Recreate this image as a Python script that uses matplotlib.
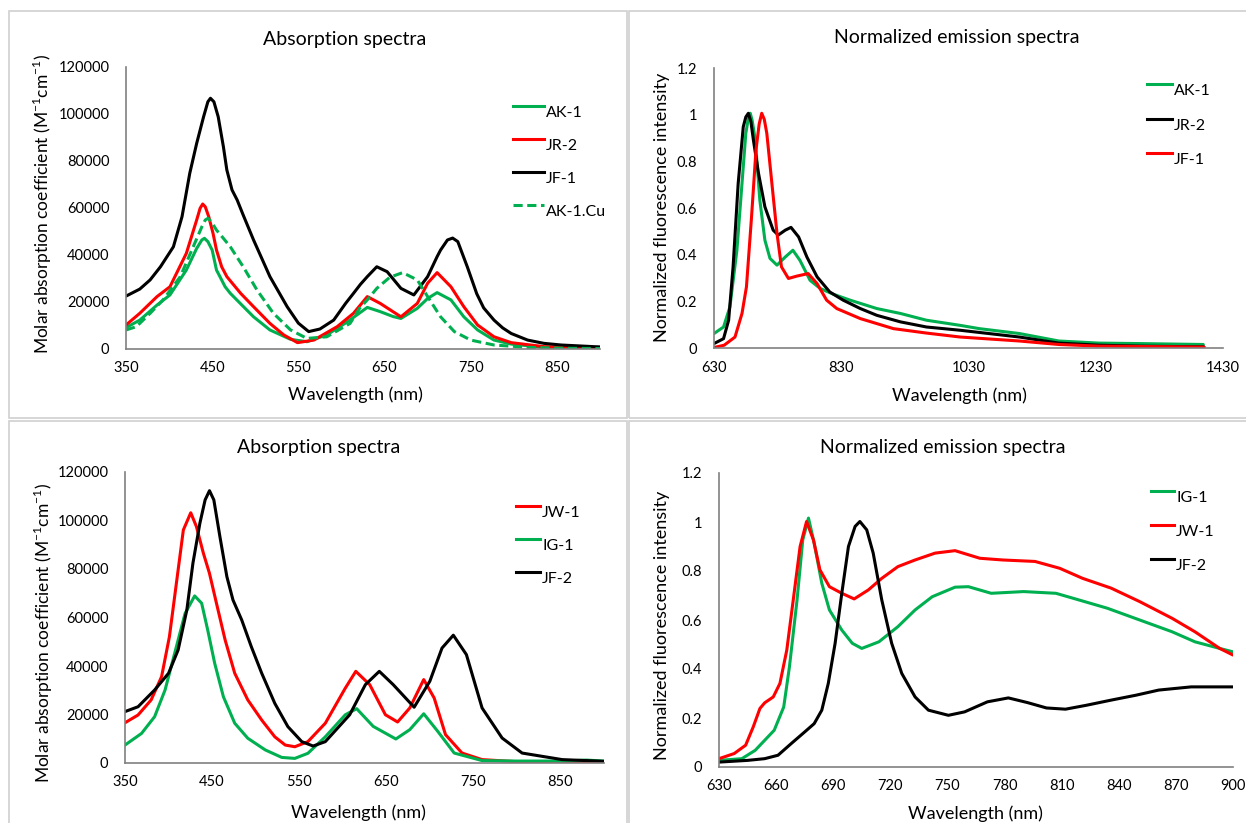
import matplotlib
matplotlib.use('Agg')
import matplotlib.pyplot as plt
from matplotlib.lines import Line2D
from matplotlib.patches import Rectangle
from matplotlib.ticker import FuncFormatter

plt.rcParams['font.family'] = ['Lato', 'DejaVu Sans']
plt.rcParams['mathtext.fontset'] = 'custom'
plt.rcParams['mathtext.rm'] = 'Lato'

GREEN = '#00b050'
RED = '#ff0000'
BLACK = '#000000'

# ---- top left: absorption (AK-1, JR-2, JF-1, AK-1.Cu) ----
ak1_abs_nm = [350, 366, 386, 401, 420, 432, 438, 441, 445, 450, 455, 459, 465, 471, 485, 498, 517,
              541, 560, 583, 607, 630, 645, 660, 669, 688, 700, 711, 727, 742, 758, 777, 797, 835,
              870, 900]
ak1_abs = [9100, 12300, 18700, 23000, 33600, 42800, 46400, 47100, 45700, 42100, 33600, 30800, 26500,
           23700, 18500, 13700, 8100, 4100, 3100, 6000, 11600, 17700, 15900, 13800, 13000, 17300,
           21500, 24000, 20900, 13700, 8100, 3800, 2100, 700, 500, 400]

jr2_abs_nm = [350, 366, 386, 401, 420, 426, 432, 436, 439, 442, 446, 451, 455, 461, 467, 483, 498,
              517, 533, 549, 568, 595, 614, 630, 645, 669, 688, 700, 711, 727, 742, 758, 777, 797,
              835, 870, 900]
jr2_abs = [10200, 15200, 22300, 26500, 40700, 47800, 54900, 59900, 61700, 60500, 56300, 49200, 42100,
           35000, 30800, 23700, 18000, 10900, 6000, 2700, 3800, 9500, 15200, 22300, 19400, 13700,
           19400, 28000, 32500, 26500, 18000, 10200, 5200, 2700, 1000, 700, 500]

jf1_abs_nm = [350, 366, 378, 390, 405, 415, 424, 432, 440, 445, 448, 452, 457, 463, 467, 473, 479,
              486, 498, 517, 537, 550, 562, 575, 591, 605, 614, 622, 630, 641, 653, 669, 684, 700,
              711, 715, 723, 729, 735, 746, 757, 765, 777, 787, 797, 816, 835, 855, 893, 900]
jf1_abs = [22500, 25500, 29400, 35000, 43500, 56300, 74800, 87500, 98800, 105200, 106700, 105200,
           98800, 86100, 76200, 67700, 63400, 57000, 46400, 30800, 18000, 11000, 7400, 8500, 12300,
           19500, 23700, 27500, 30800, 35000, 32900, 25800, 23000, 30800, 39300, 42100, 46400,
           47200, 45700, 35000, 23500, 17500, 12300, 9000, 6600, 3800, 2400, 1700, 1000, 900]

ak1cu_abs_nm = [350, 362, 378, 393, 413, 428, 438, 442, 445, 449, 455, 463, 471, 486, 502, 521, 541,
                560, 583, 610, 621, 630, 641, 656, 671, 688, 700, 715, 731, 750, 777, 816, 860, 900]
ak1cu_abs = [8100, 9500, 15200, 20900, 30800, 43500, 52000, 54900, 55600, 54200, 50600, 47100, 43500,
             35000, 25100, 15200, 8100, 4500, 5200, 10900, 17300, 20900, 25800, 30500, 32500, 29400,
             22300, 13700, 7400, 3800, 1700, 700, 300, 200]

# ---- top right: normalized emission (AK-1, JR-2, JF-1) ----
ak1_em_nm = [630, 645, 655, 666, 674, 680, 684, 687, 690, 695, 702, 710, 718, 729, 742, 754, 765,
             781, 797, 818, 844, 886, 923, 964, 1017, 1047, 1110, 1172, 1235, 1298, 1399]
ak1_em = [0.062, 0.09, 0.176, 0.419, 0.705, 0.92, 0.985, 1.006, 0.975, 0.89, 0.634, 0.462, 0.384,
          0.355, 0.39, 0.419, 0.376, 0.29, 0.255, 0.23, 0.205, 0.169, 0.148, 0.119, 0.097, 0.083,
          0.062, 0.03, 0.021, 0.019, 0.015]

jr2_em_nm = [630, 645, 653, 660, 668, 676, 680, 684, 688, 692, 700, 710, 723, 731, 742, 751, 763,
             776, 792, 812, 833, 860, 886, 923, 964, 1017, 1110, 1172, 1235, 1300, 1400]
jr2_em = [0.019, 0.04, 0.119, 0.348, 0.705, 0.948, 0.99, 1.006, 0.97, 0.89, 0.748, 0.605, 0.505,
          0.484, 0.505, 0.517, 0.476, 0.39, 0.305, 0.24, 0.205, 0.169, 0.14, 0.112, 0.09, 0.076,
          0.047, 0.021, 0.012, 0.008, 0.005]

jf1_em_nm = [630, 646, 663, 674, 681, 689, 696, 701, 705, 709, 713, 721, 729, 736, 747, 760, 778,
             792, 807, 823, 860, 912, 964, 1017, 1110, 1172, 1235, 1400]
jf1_em = [0.002, 0.012, 0.047, 0.148, 0.262, 0.562, 0.849, 0.96, 1.006, 0.98, 0.92, 0.705, 0.491,
          0.348, 0.298, 0.308, 0.319, 0.276, 0.205, 0.169, 0.126, 0.083, 0.064, 0.047, 0.03, 0.015,
          0.008, 0.004]

# ---- bottom left: absorption (JW-1, IG-1, JF-2) ----
jw1_abs_nm = [350, 365, 380, 392, 401, 409, 417, 425.5, 432, 440, 447, 455, 465, 476, 491, 507, 522,
              534, 545, 560, 580, 603, 615, 631, 649, 663, 677, 693, 705, 718, 737, 760, 806, 850, 900]
jw1_abs = [16600, 19800, 26000, 35600, 52100, 74100, 96100, 103200, 97500, 86500, 78200, 65900, 50700,
           37000, 26000, 17700, 10800, 7400, 6700, 8800, 16400, 30900, 37800, 32300, 19900, 16900,
           22700, 34400, 26800, 11700, 4100, 1400, 400, 300, 200]

ig1_abs_nm = [350, 369, 384, 396, 407, 419, 430, 438, 445, 453, 463, 476, 491, 511, 530, 545, 560,
              580, 603, 616, 635, 661, 677, 693, 709, 728, 760, 800, 850, 880, 900]
ig1_abs = [7400, 12200, 19100, 30100, 45200, 61700, 68900, 65900, 54800, 41100, 27300, 16400, 10200,
           5400, 2300, 1900, 4000, 10800, 19900, 22400, 15100, 9900, 13750, 20300, 13100, 4100, 1000,
           800, 800, 1200, 800]

jf2_abs_nm = [350, 365, 384, 400, 411, 421, 428, 436, 442, 447, 452, 459, 467, 474, 484, 495, 507,
              522, 537, 553, 566, 580, 608, 626, 642, 658, 682, 700, 714, 727, 742, 760, 783, 806,
              852, 900]
jf2_abs = [21200, 23200, 30100, 37000, 46600, 63100, 82400, 98900, 108500, 112300, 108500, 93300,
           76800, 67200, 59000, 48000, 37000, 24600, 15000, 8800, 7000, 8800, 19900, 32300, 37800,
           32300, 23000, 33700, 47400, 52700, 44700, 22700, 10300, 4100, 1400, 700]

# ---- bottom right: normalized emission (IG-1, JW-1, JF-2) ----
ig1_em_nm = [630, 642, 649, 654, 659, 664, 667, 671, 674, 677, 680, 684, 688, 694.5, 700, 705, 714,
             724, 733, 742, 754, 761, 773, 790, 807, 819, 834, 851, 868, 880, 893, 900]
ig1_em = [0.027, 0.034, 0.068, 0.109, 0.15, 0.245, 0.409, 0.682, 0.927, 1.016, 0.914, 0.75, 0.641,
          0.559, 0.505, 0.484, 0.511, 0.573, 0.641, 0.695, 0.734, 0.736, 0.709, 0.716, 0.709, 0.682,
          0.648, 0.6, 0.552, 0.511, 0.484, 0.47]

jw1_em_nm = [630, 638, 644, 648, 651.5, 654, 658.5, 662, 665.6, 669, 672.6, 676, 679.6, 683, 688,
             694.5, 701, 708.5, 715.5, 724, 733, 743.5, 754, 767, 779, 796, 809, 821, 836, 851, 868,
             880, 893, 900]
jw1_em = [0.034, 0.055, 0.089, 0.164, 0.239, 0.262, 0.286, 0.341, 0.477, 0.682, 0.9, 1.002, 0.927,
          0.805, 0.736, 0.709, 0.686, 0.723, 0.77, 0.818, 0.845, 0.873, 0.883, 0.852, 0.845, 0.839,
          0.811, 0.77, 0.73, 0.675, 0.607, 0.552, 0.484, 0.457]

jf2_em_nm = [630, 645, 654, 661, 668, 675, 680, 684, 687.4, 691, 694.5, 698, 701.5, 704, 707.6, 711,
             715.5, 720.7, 726, 733, 740, 750.5, 759, 771, 782, 792, 802, 812, 823, 836, 849, 861,
             878, 900]
jf2_em = [0.02, 0.027, 0.034, 0.048, 0.096, 0.143, 0.177, 0.232, 0.341, 0.505, 0.709, 0.9, 0.982,
          1.002, 0.968, 0.873, 0.682, 0.505, 0.382, 0.286, 0.232, 0.211, 0.225, 0.266, 0.282, 0.263,
          0.241, 0.236, 0.252, 0.273, 0.293, 0.314, 0.327, 0.327]

W, H = 1246, 823
fig = plt.figure(figsize=(W / 100, H / 100), dpi=100)


def fx(x):
    return x / W


def fy(y):
    return 1 - y / H


def add_axes(x0, x1, y_top, y_bot):
    return fig.add_axes([fx(x0), fy(y_bot), fx(x1 - x0), (y_bot - y_top) / H])


def style(ax, xlim, xticks, ylim, yticks, fmt):
    ax.set_xlim(xlim)
    ax.set_ylim(ylim)
    ax.set_xticks(xticks)
    ax.set_yticks(yticks)
    ax.yaxis.set_major_formatter(FuncFormatter(fmt))
    for s in ['top', 'right']:
        ax.spines[s].set_visible(False)
    for s in ['left', 'bottom']:
        ax.spines[s].set_color('#808080')
        ax.spines[s].set_linewidth(1.2)
    ax.tick_params(length=0, labelsize=10.5, colors='black')
    ax.tick_params(axis='x', pad=9)
    ax.tick_params(axis='y', pad=12)


def line(ax, x, y, color, ls='-'):
    ax.plot(x, y, color=color, lw=2.2, ls=ls, solid_joinstyle='round', solid_capstyle='round')


def legend(entries, x0, x1, ys, tx):
    for (label, color, ls), y in zip(entries, ys):
        fig.add_artist(Line2D([fx(x0), fx(x1)], [fy(y - 7), fy(y - 7)], color=color, lw=2.2, ls=ls,
                              transform=fig.transFigure))
        fig.text(fx(tx), fy(y), label, fontsize=11.5, va='center', ha='left')


abs_fmt = lambda v, p: '%d' % v
em_fmt = lambda v, p: '%g' % round(v, 2)
dash = (0, (3, 1.5))
ylab_abs = r'Molar absorption coefficient (M$^{\mathregular{-1}}$cm$^{\mathregular{-1}}$)'
ylab_em = 'Normalized fluorescence intensity'

# panel frames
for (x0, y0, x1, y1) in [(9, 11, 627, 418), (629, 11, 1252, 418), (9, 421, 627, 830), (629, 421, 1252, 830)]:
    fig.add_artist(Rectangle((fx(x0), fy(y1)), fx(x1 - x0), (y1 - y0) / H, fill=False,
                             edgecolor='#d0d0d0', lw=1.2, transform=fig.transFigure))

# top left
ax1 = add_axes(126, 600, 67, 349)
line(ax1, ak1_abs_nm, ak1_abs, GREEN)
line(ax1, jr2_abs_nm, jr2_abs, RED)
line(ax1, jf1_abs_nm, jf1_abs, BLACK)
line(ax1, ak1cu_abs_nm, ak1cu_abs, GREEN, dash)
style(ax1, (350, 900), range(350, 851, 100), (0, 120000), range(0, 120001, 20000), abs_fmt)
fig.text(fx(345), fy(39), 'Absorption spectra', fontsize=14, ha='center', va='center')
fig.text(fx(355), fy(395), 'Wavelength (nm)', fontsize=13, ha='center', va='center')
fig.text(fx(42), fy(204), ylab_abs, fontsize=12.5, ha='center', va='center', rotation=90)
legend([('AK-1', GREEN, '-'), ('JR-2', RED, '-'), ('JF-1', BLACK, '-'), ('AK-1.Cu', GREEN, dash)],
       513, 544, [113, 146, 179, 212], 546)

# top right
ax2 = add_axes(714, 1223, 68, 348)
line(ax2, ak1_em_nm, ak1_em, GREEN)
line(ax2, jr2_em_nm, jr2_em, BLACK)
line(ax2, jf1_em_nm, jf1_em, RED)
style(ax2, (630, 1430), range(630, 1431, 200), (0, 1.2), [0, 0.2, 0.4, 0.6, 0.8, 1.0, 1.2], em_fmt)
fig.text(fx(957), fy(38), 'Normalized emission spectra', fontsize=14, ha='center', va='center')
fig.text(fx(959), fy(396), 'Wavelength (nm)', fontsize=13, ha='center', va='center')
fig.text(fx(662), fy(207), ylab_em, fontsize=13, ha='center', va='center', rotation=90)
legend([('AK-1', GREEN, '-'), ('JR-2', BLACK, '-'), ('JF-1', RED, '-')],
       1147, 1172, [91, 126, 160], 1174)

# bottom left
ax3 = add_axes(125, 604, 472, 763)
line(ax3, jw1_abs_nm, jw1_abs, RED)
line(ax3, ig1_abs_nm, ig1_abs, GREEN)
line(ax3, jf2_abs_nm, jf2_abs, BLACK)
style(ax3, (350, 900), range(350, 851, 100), (0, 120000), range(0, 120001, 20000), abs_fmt)
fig.text(fx(319), fy(448), 'Absorption spectra', fontsize=14, ha='center', va='center')
fig.text(fx(358), fy(813), 'Wavelength (nm)', fontsize=13, ha='center', va='center')
fig.text(fx(43), fy(633), ylab_abs, fontsize=12.5, ha='center', va='center', rotation=90)
legend([('JW-1', RED, '-'), ('IG-1', GREEN, '-'), ('JF-2', BLACK, '-')],
       516, 540, [513, 546, 579], 542)

# bottom right
ax4 = add_axes(719, 1233, 473, 767)
line(ax4, ig1_em_nm, ig1_em, GREEN)
line(ax4, jw1_em_nm, jw1_em, RED)
line(ax4, jf2_em_nm, jf2_em, BLACK)
style(ax4, (630, 900), range(630, 901, 30), (0, 1.2), [0, 0.2, 0.4, 0.6, 0.8, 1.0, 1.2], em_fmt)
fig.text(fx(943), fy(447), 'Normalized emission spectra', fontsize=14, ha='center', va='center')
fig.text(fx(975), fy(814), 'Wavelength (nm)', fontsize=13, ha='center', va='center')
fig.text(fx(662), fy(625), ylab_em, fontsize=13, ha='center', va='center', rotation=90)
legend([('IG-1', GREEN, '-'), ('JW-1', RED, '-'), ('JF-2', BLACK, '-')],
       1151, 1174, [498, 532, 566], 1176)

fig.savefig('out.png', dpi=100)
